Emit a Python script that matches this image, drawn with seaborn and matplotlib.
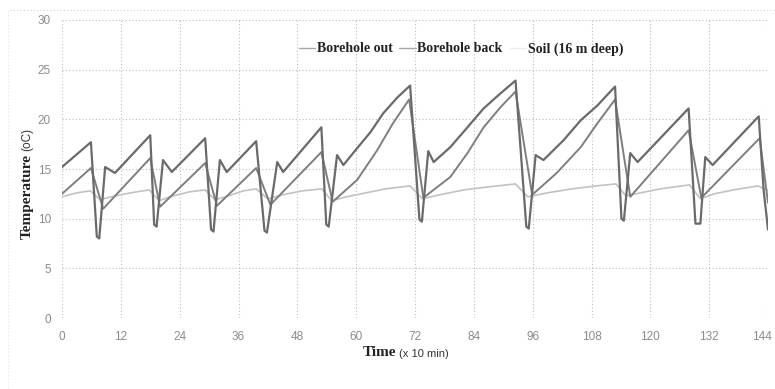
import matplotlib
matplotlib.use("Agg")
import matplotlib.pyplot as plt
import matplotlib.transforms as mtransforms
import seaborn as sns
import pandas as pd
from matplotlib.lines import Line2D

# ---- data ----
series_names = ["Borehole out", "Borehole back", "Soil (16 m deep)"]

out_t = [0, 5.9, 7.1, 7.6, 8.8, 10.8, 18.0, 18.8, 19.3, 20.6, 22.4, 29.2, 30.4, 30.9,
         32.2, 33.6, 39.6, 41.3, 41.8, 43.9, 45.1, 52.9, 53.9, 54.4, 56.1, 57.4,
         60.2, 62.9, 65.5, 68.4, 71.0, 72.9, 73.4, 74.7, 75.8, 79.2, 82.7, 86.0,
         89.4, 92.5, 94.7, 95.2, 96.6, 98.2, 102.3, 105.8, 109.2, 112.8, 114.1,
         114.6, 115.9, 117.4, 127.8, 129.2, 130.2, 131.2, 132.7, 142.1, 143.1, 144.0]
out_v = [15.2, 17.7, 8.2, 8.0, 15.2, 14.6, 18.4, 9.4, 9.2, 15.9, 14.7, 18.1, 8.9, 8.7,
         15.9, 14.7, 17.8, 8.8, 8.6, 15.7, 14.7, 19.2, 9.4, 9.2, 16.4, 15.4,
         17.1, 18.7, 20.6, 22.2, 23.4, 9.9, 9.7, 16.8, 15.7, 17.2, 19.2, 21.1,
         22.6, 23.9, 9.2, 9.0, 16.4, 15.9, 17.9, 19.9, 21.4, 23.3, 10.0,
         9.8, 16.6, 15.7, 21.1, 9.5, 9.5, 16.2, 15.4, 20.3, 12.9, 8.9]

back_t = [0, 5.9, 8.4, 18.0, 20.0, 29.2, 31.6, 39.6, 42.5, 52.9, 55.2, 60.2, 64.3,
          67.5, 70.8, 73.7, 79.2, 82.7, 86.0, 89.4, 92.5, 95.9, 100.9, 105.8,
          109.2, 112.8, 115.9, 127.8, 130.4, 142.3, 144.0]
back_v = [12.5, 15.1, 11.0, 16.1, 11.2, 15.6, 11.3, 15.1, 11.4, 16.7, 11.7, 13.9, 16.9,
          19.6, 22.0, 12.1, 14.2, 16.6, 19.2, 21.2, 22.8, 12.4, 14.6, 17.2,
          19.6, 22.0, 12.2, 18.9, 12.1, 18.1, 11.6]

soil_t = [0, 3, 5.8, 7.8, 10, 14, 17.8, 19.8, 22, 26, 29.2, 31.2, 34, 37, 39.6, 42,
          45, 49, 53, 55, 58, 62, 66, 71, 73.5, 77, 82, 87, 92.5, 95, 99, 104, 109,
          113, 115, 118, 122, 128, 130.2, 133, 137, 142, 144]
soil_v = [12.2, 12.6, 12.8, 11.9, 12.2, 12.6, 12.9, 11.8, 12.2, 12.7, 12.9, 11.9, 12.3,
          12.8, 13.0, 12.0, 12.4, 12.8, 13.0, 11.8, 12.2, 12.6, 13.0, 13.3, 12.0,
          12.4, 12.9, 13.2, 13.5, 12.2, 12.6, 13.0, 13.3, 13.5, 12.3, 12.6, 13.0,
          13.4, 12.0, 12.5, 12.9, 13.3, 12.8]

x_ticks = [0, 12, 24, 36, 48, 60, 72, 84, 96, 108, 120, 132, 144]
y_ticks = [0, 5, 10, 15, 20, 25, 30]

# ---- styling ----
sns.set_style("white")
plt.rcParams['font.family'] = ['Liberation Sans', 'DejaVu Sans']

colors = {"Borehole out": "#6a6a6a", "Borehole back": "#7e7e7e", "Soil (16 m deep)": "#c2c2c2"}
widths = {"Borehole out": 1.6, "Borehole back": 1.4, "Soil (16 m deep)": 1.2}

fig = plt.figure(figsize=(7.75, 3.89), dpi=100)
ax = fig.add_axes([0.080, 0.1825, 0.911, 0.7661])

frames = {
    "Borehole out": pd.DataFrame({"t": out_t, "v": out_v}),
    "Borehole back": pd.DataFrame({"t": back_t, "v": back_v}),
    "Soil (16 m deep)": pd.DataFrame({"t": soil_t, "v": soil_v}),
}
for name in ["Soil (16 m deep)", "Borehole back", "Borehole out"]:
    sns.lineplot(data=frames[name], x="t", y="v", ax=ax, color=colors[name],
                 linewidth=widths[name], estimator=None, sort=False, legend=False)

ax.set_xlim(0, 144)
ax.set_ylim(0, 30)
ax.set_xticks(x_ticks)
ax.set_yticks(y_ticks)
ax.grid(True, linestyle=(0, (1, 2)), color="#bdbdbd", linewidth=0.8)
for s in ax.spines.values():
    s.set_visible(False)
ax.tick_params(length=0, labelsize=8.5, labelcolor="#8c8c8c")
ax.tick_params(axis="x", pad=9)
ax.tick_params(axis="y", pad=8)
ax.set_xlabel("")
ax.set_ylabel("")

# nudge the last x tick label so it stays inside the figure
last = ax.get_xticklabels()[-1]
last.set_transform(last.get_transform() +
                   mtransforms.ScaledTranslation(-6 / 100, 0, fig.dpi_scale_trans))

# axis titles (bold serif word + small sans unit)
tx = ax.text(0.450, -0.117, "Time", transform=ax.transAxes, ha="center", va="center",
             fontsize=11, fontweight="bold", family="Liberation Serif", color="#222222")
ax.annotate("(x 10 min)", xy=(1, 0), xycoords=tx, xytext=(1.5, 0.5), textcoords="offset points",
            ha="left", va="bottom", fontsize=8, color="#333333", family="Liberation Sans")

ty = ax.text(-0.0496, 0.409, "Temperature", transform=ax.transAxes, ha="center", va="center",
             rotation=90, fontsize=11, fontweight="bold", family="Liberation Serif", color="#222222")
ax.annotate("(oC)", xy=(0.55, 1), xycoords=ty, xytext=(0, 2), textcoords="offset points",
            ha="center", va="bottom", rotation=90, fontsize=8.5, color="#333333",
            family="Liberation Sans")

# legend
handles = [Line2D([], [], color="#a8a8a8", lw=1.0),
           Line2D([], [], color="#a8a8a8", lw=1.0),
           Line2D([], [], color="#ececec", lw=1.0)]
leg = ax.legend(handles, series_names, ncol=3, loc="center", bbox_to_anchor=(0.565, 0.903),
                frameon=False, handlelength=1.2, handletextpad=0.1, columnspacing=0.5,
                prop={"family": "Liberation Serif", "weight": "bold", "size": 10})
for t in leg.get_texts():
    t.set_color("#222222")

# faint outer chart border
fig.add_artist(Line2D([10 / 775, 1], [1 - 10 / 389, 1 - 10 / 389], transform=fig.transFigure,
                      color="#cfcfcf", lw=0.8, ls=(0, (1, 2))))
fig.add_artist(Line2D([8 / 775, 8 / 775], [0, 1 - 10 / 389], transform=fig.transFigure,
                      color="#e4e4e4", lw=0.8, ls=(0, (1, 2))))

fig.savefig("out.png", dpi=100)
